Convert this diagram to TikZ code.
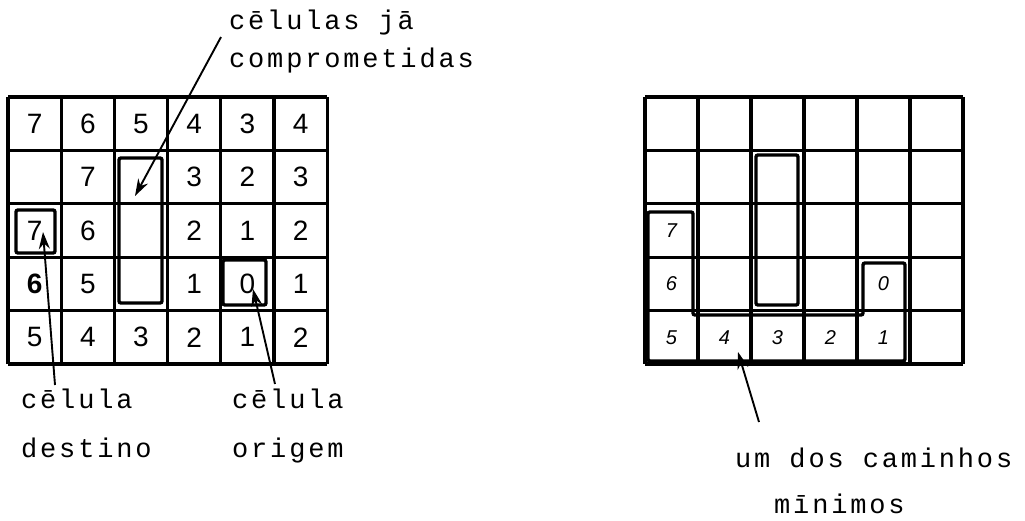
\documentclass[tikz,border=0pt]{standalone}
\usepackage{fontspec}
\usetikzlibrary{arrows.meta}
\newfontfamily\tw[LetterSpace=10.5]{Liberation Mono}
\newfontfamily\hw{Liberation Sans}
\tikzset{
  gridline/.style={line width=3.2pt},
  block/.style={line width=3.4pt, rounded corners=2pt},
  lbl/.style={anchor=base west, inner sep=0pt, font=\tw\fontsize{27}{27}\selectfont},
  dig/.style={inner sep=0pt, font=\hw\fontsize{28}{28}\selectfont},
  sdig/.style={inner sep=0pt, font=\hw\itshape\fontsize{20}{20}\selectfont},
  ptr/.style={line width=1.9pt, -{Stealth[length=17pt,width=11pt]}},
}
\begin{document}
\begin{tikzpicture}[x=1pt,y=-1pt]
\useasboundingbox (0,0) rectangle (1025,520);
% ---------- left grid ----------
\begin{scope}[shift={(8,97)}, x=53.2pt, y=-53.4pt]
  \foreach \i in {0,...,6} \draw[gridline] (\i,0) -- (\i,5);
  \foreach \j in {0,...,5} \draw[gridline] (0,\j) -- (6,\j);
  \foreach \r/\row in {1/{7,6,5,4,3,4},2/{,7,,3,2,3},3/{7,6,,2,1,2},4/{,5,,1,0,1},5/{5,4,3,2,1,2}}{
    \foreach \v [count=\c] in \row {
      \node[dig] (L-\r-\c) at (\c-0.5,\r-0.5) {\v};
    }
  }
  \node[dig, font=\hw\bfseries\fontsize{28}{28}\selectfont] (L-4-1) at (0.5,3.5) {6};
\end{scope}
\draw[block] (119,158) rectangle (162,303);
\draw[block] (16,210) rectangle (55,253);
\draw[block] (223,260) rectangle (266,305);
% labels left
\node[lbl] (comp1) at (229,29) {cēlulas jā};
\node[lbl] (comp2) at (229,67) {comprometidas};
\node[lbl] (dest1) at (21,408) {cēlula};
\node[lbl] (dest2) at (21,457) {destino};
\node[lbl] (orig1) at (232,408) {cēlula};
\node[lbl] (orig2) at (232,457) {origem};
\coordinate (compS) at (221,37);
\coordinate (compT) at (135,196);
\coordinate (destS) at (55,385);
\coordinate (destT) at (43,232);
\coordinate (origS) at (275,384);
\coordinate (origT) at (253,289);
\draw[ptr] (compS) -- (compT);
\draw[ptr] (destS) -- (destT);
\draw[ptr] (origS) -- (origT);
% ---------- right grid ----------
\begin{scope}[shift={(645,97)}, x=53pt, y=-53.4pt]
  \foreach \i in {0,...,6} \draw[gridline] (\i,0) -- (\i,5);
  \foreach \j in {0,...,5} \draw[gridline] (0,\j) -- (6,\j);
  \node[sdig] (R-3-1) at (0.5,2.5) {7};
  \node[sdig] (R-4-1) at (0.5,3.5) {6};
  \node[sdig] (R-4-5) at (4.5,3.5) {0};
  \foreach \v [count=\c] in {5,4,3,2,1}{
    \node[sdig] (R-5-\c) at (\c-0.5,4.5) {\v};
  }
\end{scope}
\draw[block] (756,155) rectangle (798,305);
\draw[block] (648,212) -- (648,361) -- (905,361) -- (905,263) -- (863,263) -- (863,315) -- (693,315) -- (693,212) -- cycle;
\node[lbl] (min1) at (735,467) {um dos caminhos};
\node[lbl] (min2) at (774,513) {mīnimos};
\coordinate (minS) at (759,422);
\coordinate (minT) at (738,352);
\draw[ptr] (minS) -- (minT);
\end{tikzpicture}
\end{document}
